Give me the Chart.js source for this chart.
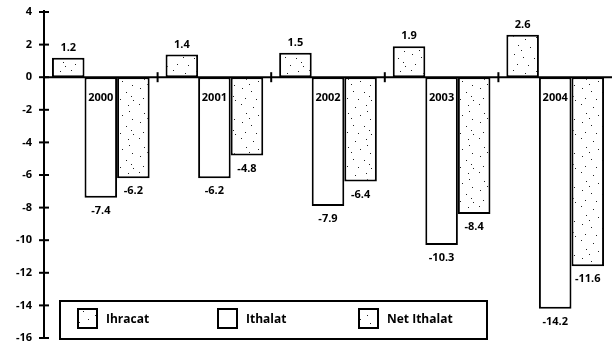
<!DOCTYPE html>
<html>
<head>
<meta charset="utf-8">
<script src="https://cdn.jsdelivr.net/npm/chart.js@4"></script>
<style>
  html, body { margin: 0; padding: 0; background: #fff; }
  #wrap { width: 612px; height: 348px; }
</style>
</head>
<body>
<div id="wrap"><canvas id="chart" width="612" height="348"></canvas></div>
<script>
const years = ['2000', '2001', '2002', '2003', '2004'];
const ihracat = [1.2, 1.4, 1.5, 1.9, 2.6];
const ithalat = [-7.4, -6.2, -7.9, -10.3, -14.2];
const netIthalat = [-6.2, -4.8, -6.4, -8.4, -11.6];
const seriesNames = ['Ihracat', 'Ithalat', 'Net Ithalat'];

const FONT = "'Open Sans', 'DejaVu Sans', sans-serif";

// stippled fill used by the export and net import bars
function stipple() {
  const c = document.createElement('canvas');
  c.width = 34; c.height = 34;
  const g = c.getContext('2d');
  g.fillStyle = '#fff';
  g.fillRect(0, 0, 34, 34);
  g.fillStyle = '#222';
  const dots = [[3,2],[15,5],[26,3],[8,11],[20,13],[30,17],[4,20],[13,23],[24,24],[7,30],[18,31],[29,28],[11,16],[27,9],[31,32]];
  dots.forEach(([dx, dy]) => g.fillRect(dx, dy, 1, 1));
  return g.createPattern(c, 'repeat');
}
const dotted = stipple();

const decorations = {
  id: 'decorations',
  afterDatasetsDraw(chart) {
    const ctx = chart.ctx;
    const xs = chart.scales.x, ys = chart.scales.y;
    const area = chart.chartArea;
    const y0 = ys.getPixelForValue(0);
    const seg = (x1, y1, x2, y2) => { ctx.beginPath(); ctx.moveTo(x1, y1); ctx.lineTo(x2, y2); ctx.stroke(); };

    ctx.save();
    ctx.strokeStyle = '#000';
    ctx.lineWidth = 2;
    seg(area.left, y0, area.right, y0);
    seg(area.left, ys.getPixelForValue(ys.max) - 2, area.left, ys.getPixelForValue(ys.min));
    ys.ticks.forEach(t => {
      const py = ys.getPixelForValue(t.value);
      seg(area.left - 5, py, area.left + 5, py);
    });
    for (let i = 1; i < years.length; i++) {
      const bx = (xs.getPixelForTick(i - 1) + xs.getPixelForTick(i)) / 2;
      seg(bx, y0 - 5, bx, y0 + 5);
    }

    ctx.fillStyle = '#000';
    ctx.textAlign = 'center';
    ctx.textBaseline = 'middle';
    ctx.font = 'bold 11px ' + FONT;
    chart.data.datasets.forEach((ds, di) => {
      chart.getDatasetMeta(di).data.forEach((bar, i) => {
        const v = ds.data[i];
        const ty = v >= 0 ? bar.y - 10 : bar.y + 13;
        ctx.fillText(v.toFixed(1), bar.x, ty);
      });
    });

    // year names sit inside the import bars, just under the zero line
    ctx.font = 'bold 11px ' + FONT;
    chart.getDatasetMeta(1).data.forEach((bar, i) => {
      ctx.fillText(years[i], bar.x, y0 + 21);
    });
    ctx.restore();
  },
  afterDraw(chart) {
    const ctx = chart.ctx;
    ctx.save();
    ctx.strokeStyle = '#000';
    ctx.lineWidth = 2;
    ctx.fillStyle = '#fff';
    ctx.fillRect(60, 301, 427, 38);
    ctx.strokeRect(60, 301, 427, 38);
    const slots = [78, 218, 359];
    ctx.font = 'bold 12px ' + FONT;
    ctx.textBaseline = 'middle';
    ctx.textAlign = 'left';
    chart.data.datasets.forEach((ds, i) => {
      ctx.fillStyle = ds.backgroundColor;
      ctx.fillRect(slots[i], 309, 19, 19);
      ctx.strokeRect(slots[i], 309, 19, 19);
      ctx.fillStyle = '#000';
      ctx.fillText(ds.label, slots[i] + 28, 320);
    });
    ctx.restore();
  }
};

new Chart(document.getElementById('chart'), {
  type: 'bar',
  data: {
    labels: years,
    datasets: [
      { label: seriesNames[0], data: ihracat, backgroundColor: dotted },
      { label: seriesNames[1], data: ithalat, backgroundColor: '#fff' },
      { label: seriesNames[2], data: netIthalat, backgroundColor: dotted }
    ].map(ds => Object.assign(ds, {
      borderColor: '#000',
      borderWidth: 2,
      borderSkipped: false,
      barPercentage: 1,
      categoryPercentage: 0.86
    }))
  },
  options: {
    responsive: false,
    animation: false,
    layout: { padding: { top: 12, bottom: 10, left: 0, right: 0 } },
    plugins: {
      legend: { display: false },
      tooltip: { enabled: false }
    },
    scales: {
      x: { display: false },
      y: {
        min: -16,
        max: 4,
        ticks: {
          stepSize: 2,
          padding: 12,
          color: '#000',
          font: { family: FONT, size: 11, weight: 'bold' }
        },
        grid: { display: false, drawTicks: false },
        border: { display: false },
        afterFit(scale) {
          scale.width = 44;
          scale.paddingTop = 0;
          scale.paddingBottom = 0;
        }
      }
    }
  },
  plugins: [decorations]
});
</script>
</body>
</html>
